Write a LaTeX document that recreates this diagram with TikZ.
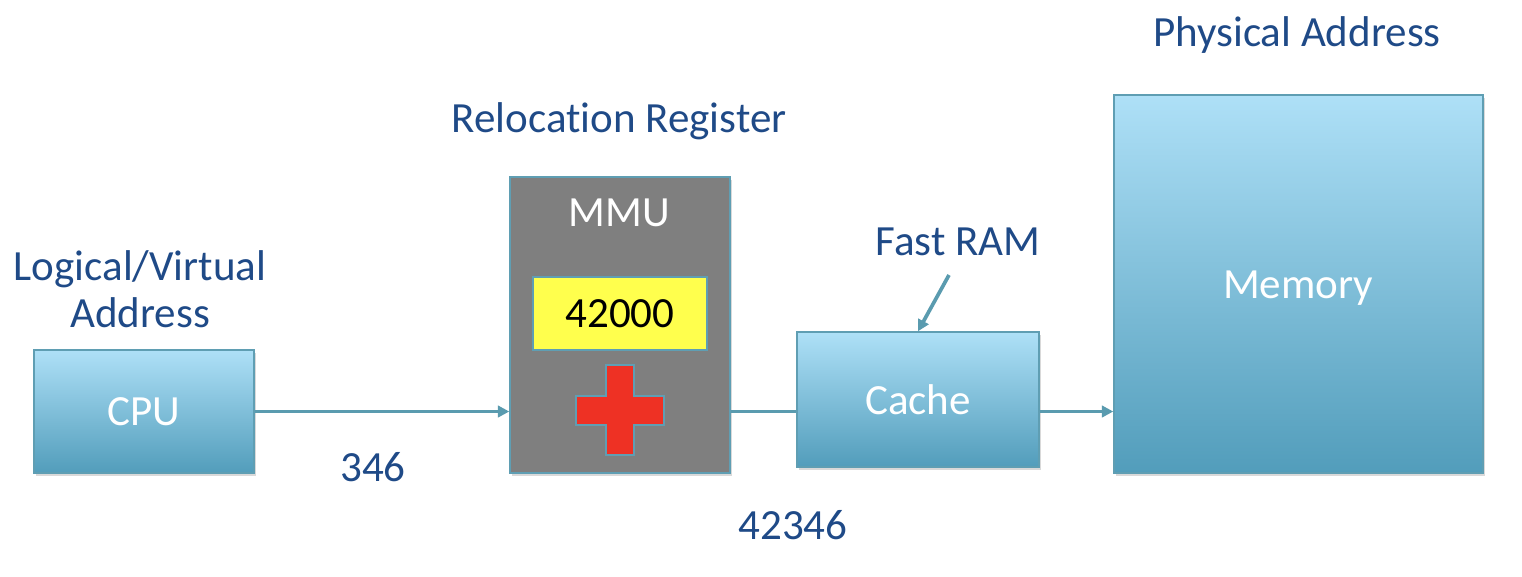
\documentclass[tikz,border=0pt]{standalone}
\usepackage{fontspec}
\setmainfont{Carlito}[Ligatures={NoCommon}]
\usetikzlibrary{arrows.meta,shadows,calc}
\definecolor{txtblue}{HTML}{1F4A87}
\definecolor{boxtop}{HTML}{AEE0F7}
\definecolor{boxbot}{HTML}{529DBB}
\definecolor{boxline}{HTML}{5F9EB3}
\definecolor{conn}{HTML}{5A9BAF}
\definecolor{mmugray}{HTML}{7F7F7F}
\definecolor{regyellow}{HTML}{FFFF4D}
\definecolor{crossred}{HTML}{EE3124}
\newcommand{\bigfont}{\fontsize{24.5}{27}\selectfont}
\tikzset{
  bluebox/.style={draw=boxline, line width=0.8pt, top color=boxtop, bottom color=boxbot,
    text=white, font=\bigfont, inner sep=0pt,
    drop shadow={shadow xshift=1pt, shadow yshift=-1.5pt, opacity=0.3}},
  lbl/.style={text=txtblue, font=\bigfont, inner sep=0pt, align=center},
  conline/.style={draw=conn, line width=2.1pt},
  tip/.style={-{Triangle[length=6.5pt,width=6.5pt]}}
}
\begin{document}
\begin{tikzpicture}[x=0.02cm,y=-0.02cm]
\useasboundingbox (0,0) rectangle (1522,576);
% boxes
\node[bluebox, minimum width=220*0.02cm, minimum height=123*0.02cm] (cpu) at (144,411.5) {CPU};
\node[draw=boxline, line width=0.8pt, fill=mmugray, minimum width=220*0.02cm, minimum height=296*0.02cm,
  drop shadow={shadow xshift=1pt, shadow yshift=-1.5pt, opacity=0.3}] (mmu) at (620,325) {};
\node[text=white, font=\bigfont, inner sep=0pt] (mmulbl) at (619,213) {MMU};
\node[draw=boxline, line width=0.8pt, fill=regyellow, minimum width=174*0.02cm, minimum height=73*0.02cm,
  font=\bigfont, inner sep=0pt,
  drop shadow={shadow xshift=1pt, shadow yshift=-1.5pt, opacity=0.3}] (reg) at (620,313.5) {42000};
\node[bluebox, minimum width=242*0.02cm, minimum height=135*0.02cm] (cache) at (918,399.5) {Cache};
\node[bluebox, minimum width=369*0.02cm, minimum height=378*0.02cm] (mem) at (1298.5,284) {};
\node[text=white, font=\bigfont, inner sep=0pt] (memlbl) at (1298,288) {Memory};
% red cross
\draw[draw=boxline, line width=0.6pt, fill=crossred,
  drop shadow={shadow xshift=1pt, shadow yshift=-1.5pt, opacity=0.3}]
  (606,365) -- (634,365) -- (634,396) -- (664,396) -- (664,425) -- (634,425) -- (634,455)
  -- (606,455) -- (606,425) -- (576,425) -- (576,396) -- (606,396) -- cycle;
% labels
\node[lbl] (lv) at (140,289) {Logical/Virtual\\Address};
\node[lbl] (rr) at (619,121) {Relocation Register};
\node[lbl] (pa) at (1297,35) {Physical Address};
\node[lbl] (fr) at (958,242) {Fast RAM};
\node[lbl] (n346) at (373,467) {346};
\node[lbl] (n42346) at (793,525) {42346};
% connectors
\coordinate (frs) at (949,275);
\draw[conline, tip] (cpu.east) -- (cpu.east -| mmu.west);
\draw[conline] (mmu.east |- cpu.east) -- (cache.west |- cpu.east);
\draw[conline, tip] (cache.east |- cpu.east) -- (cpu.east -| mem.west);
\draw[conline, tip] (frs) -- (cache.north);
\end{tikzpicture}
\end{document}
